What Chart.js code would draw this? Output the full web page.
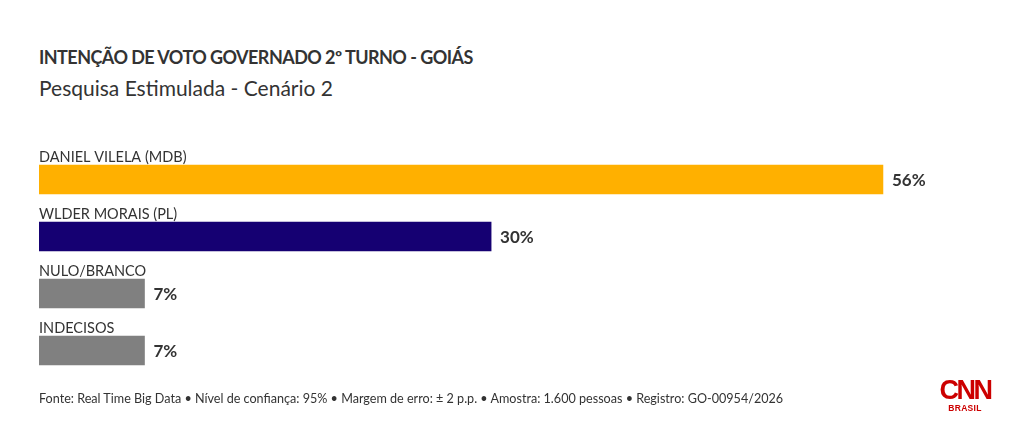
<!DOCTYPE html>
<html>
<head>
<meta charset="utf-8">
<script src="https://cdn.jsdelivr.net/npm/chart.js@4.4.1/dist/chart.umd.min.js"></script>
<style>
  html, body { margin:0; padding:0; background:#fff; }
  body { width:1020px; height:426px; position:relative; overflow:hidden; font-family: Lato, "Open Sans", sans-serif; color:#333; }
  #title { position:absolute; left:39px; top:46px; font-size:18px; font-weight:700; color:#333; white-space:nowrap; letter-spacing:-0.55px; }
  #subtitle { position:absolute; left:39px; top:75px; font-size:21px; font-weight:400; color:#333; white-space:nowrap; }
  #footer { position:absolute; left:39px; top:391px; font-size:12.6px; color:#333; white-space:nowrap; }
  #logo { position:absolute; left:938px; top:377px; width:54px; text-align:center; color:#cc0000; font-family:"Liberation Sans", sans-serif; }
  #logo .cnn { font-size:27px; font-weight:700; letter-spacing:-2.5px; line-height:27px; }
  #logo .br { font-size:8.5px; font-weight:700; line-height:9px; letter-spacing:0.3px; }
  #wrap { position:absolute; left:0; top:0; width:1020px; height:426px; }
</style>
</head>
<body>
<div id="title">INTENÇÃO DE VOTO GOVERNADO 2º TURNO - GOIÁS</div>
<div id="subtitle">Pesquisa Estimulada - Cenário 2</div>
<div id="wrap"><canvas id="c"></canvas></div>
<div id="footer">Fonte: Real Time Big Data • Nível de confiança: 95% • Margem de erro: ± 2 p.p. • Amostra: 1.600 pessoas • Registro: GO-00954/2026</div>
<div id="logo"><div class="cnn">CNN</div><div class="br">BRASIL</div></div>
<script>
const categories = ["DANIEL VILELA (MDB)", "WLDER MORAIS (PL)", "NULO/BRANCO", "INDECISOS"];
const values = [56, 30, 7, 7];
const barColors = ["#FFB000", "#150072", "#808080", "#808080"];

const labelPlugin = {
  id: 'labels',
  afterDatasetsDraw(chart) {
    const ctx = chart.ctx;
    const meta = chart.getDatasetMeta(0);
    ctx.save();
    meta.data.forEach((bar, i) => {
      const top = bar.y - bar.height / 2;
      ctx.fillStyle = '#333';
      ctx.font = '400 14.5px Lato, "Open Sans", sans-serif';
      ctx.textAlign = 'left';
      ctx.textBaseline = 'alphabetic';
      ctx.fillText(categories[i], bar.base, top - 3);
      ctx.font = '700 17px Lato, "Open Sans", sans-serif';
      ctx.textBaseline = 'middle';
      ctx.fillText(values[i] + '%', bar.x + 9, bar.y + 1);
    });
    ctx.restore();
  }
};

new Chart(document.getElementById('c'), {
  type: 'bar',
  data: {
    labels: categories,
    datasets: [{
      data: values,
      backgroundColor: barColors,
      borderWidth: 0,
      barThickness: 29
    }]
  },
  options: {
    indexAxis: 'y',
    responsive: true,
    maintainAspectRatio: false,
    animation: false,
    layout: { padding: { left: 39, right: 16.5, top: 151, bottom: 47 } },
    scales: {
      x: { display: false, min: 0, max: 64 },
      y: { display: false }
    },
    plugins: { legend: { display: false }, tooltip: { enabled: false } }
  },
  plugins: [labelPlugin]
});
</script>
</body>
</html>
